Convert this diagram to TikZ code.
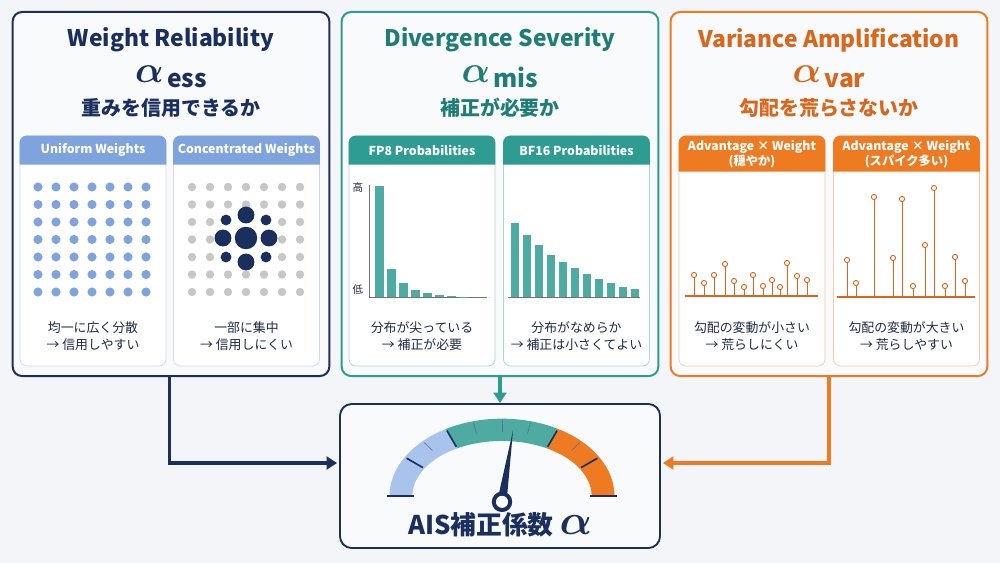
\documentclass[tikz,border=0pt]{standalone}
\usepackage{amsmath}
\usepackage{graphicx}
\usepackage{fontspec}
\setmainfont{Noto Sans CJK JP}
\usetikzlibrary{positioning,arrows.meta,calc}
\definecolor{navy}{HTML}{1B2F5E}
\definecolor{teal}{HTML}{2F9C92}
\definecolor{tealdk}{HTML}{1F7D75}
\definecolor{orng}{HTML}{EE7A22}
\definecolor{orngdk}{HTML}{D9661A}
\definecolor{bluehd}{HTML}{7FA3DC}
\definecolor{gblue}{HTML}{A9C4EC}
\definecolor{bg}{HTML}{F3F5F8}
\definecolor{pfill}{HTML}{F8FAFC}
\definecolor{txt}{HTML}{1E2A44}
\newcommand{\alphasym}[1]{\scalebox{3.2}{$\boldsymbol{\alpha}$}\hspace{3pt}\raisebox{-4pt}{\bfseries\fontsize{21}{21}\selectfont #1}}

\begin{document}
\begin{tikzpicture}[
  x=0.03cm, y=-0.03cm,
  panel/.style={draw=#1, line width=1.7pt, rounded corners=8pt, fill=pfill, minimum width=9.5cm, minimum height=10.92cm},
  sub/.style={draw=#1, line width=0.6pt, rounded corners=6pt, fill=white, minimum width=4.38cm, minimum height=6.9cm},
  ttl/.style={font=\bfseries\fontsize{19.5}{20}\selectfont, text=#1},
  jsub/.style={font=\bfseries\fontsize{17}{18}\selectfont, text=#1},
  hdr/.style={font=\bfseries\fontsize{10.5}{12}\selectfont, text=white, align=center},
  capt/.style={font=\fontsize{11}{15}\selectfont, text=txt, align=center},
  bar/.style={fill=teal!85},
  stem/.style={draw=orngdk, line width=0.8pt},
  arrow/.style={line width=2.6pt, -{Triangle[length=9pt,width=11pt]}}
]
\fill[bg] (0,0) rectangle (1000,563);

% outer panels
\node[panel=navy] (pl) at (171,194) {};
\node[panel=teal] (pm) at (500,194) {};
\node[panel=orng] (pr) at (829,194) {};

% titles
\node[ttl=navy] (tl) at (171,40) {Weight Reliability};
\node[ttl=tealdk] (tm) at (500,40) {Divergence Severity};
\node[ttl=orngdk] (tr) at (829,40) {Variance Amplification};
\node[text=navy] (al) at (171,77) {\alphasym{ess}};
\node[text=tealdk] (am) at (500,77) {\alphasym{mis}};
\node[text=orngdk] (ar) at (829,77) {\alphasym{var}};
\node[jsub=navy] (jl) at (171,108) {重みを信用できるか};
\node[jsub=tealdk] (jm) at (500,108) {補正が必要か};
\node[jsub=orngdk] (jr) at (829,108) {勾配を荒らさないか};

% sub panels with header bands
\foreach \n/\cx/\c/\h in {u/93/bluehd/29, c/246.5/bluehd/29, f/422/teal/29, b/576.5/teal/29, s/752/orng/36, k/906.5/orng/36}{
  \node[sub=\c!40] (\n) at (\cx,251) {};
  \fill[\c] ($(\n.north west)+(0,\h)$) [rounded corners=6pt] -- (\n.north west) -- (\n.north east) [sharp corners] -- ($(\n.north east)+(0,\h)$) -- cycle;
}
\node[hdr] (hu) at (93,150) {Uniform Weights};
\node[hdr] (hc) at (246.5,150) {Concentrated Weights};
\node[hdr] (hf) at (422,150) {FP8 Probabilities};
\node[hdr] (hb) at (576.5,150) {BF16 Probabilities};
\node[hdr, font=\bfseries\fontsize{10.5}{13}\selectfont] (hs) at (752,154) {Advantage × Weight\\(穏やか)};
\node[hdr, font=\bfseries\fontsize{10.5}{13}\selectfont] (hk) at (906.5,154) {Advantage × Weight\\(スパイク多い)};

% captions
\node[capt] (cu) at (93,336) {均一に広く分散\\→ 信用しやすい};
\node[capt] (cc) at (246.5,336) {一部に集中\\→ 信用しにくい};
\node[capt] (cf) at (422,336) {分布が尖っている\\→ 補正が必要};
\node[capt] (cb) at (576.5,336) {分布がなめらか\\→ 補正は小さくてよい};
\node[capt] (cs) at (752,336) {勾配の変動が小さい\\→ 荒らしにくい};
\node[capt] (ck) at (906.5,336) {勾配の変動が大きい\\→ 荒らしやすい};

% uniform dots
\foreach \i in {0,...,6}
  \foreach \j in {0,...,6}
    \fill[bluehd] (38+\i*18,187+\j*17.5) circle (3.9pt);

% concentrated dots
\foreach \i in {0,...,6}
  \foreach \j in {0,...,6}{
    \pgfmathtruncatemacro\inner{(\i>1)*(\i<5)*(\j>1)*(\j<5)}
    \ifnum\inner=0 \fill[black!22] (192+\i*18,187+\j*17.5) circle (3.6pt); \fi
  }
\fill[navy] (246,238) circle (9.6pt);
\foreach \p in {(246,215),(246,262),(223,238),(269,238)} \fill[navy] \p circle (7.2pt);
\foreach \p in {(226,220),(266,220),(226,257),(266,257)} \fill[navy] \p circle (4.6pt);

% FP8 bars
\draw[black!55, line width=0.6pt] (369,185) -- (369,297) -- (487,297);
\node[font=\fontsize{9}{9}\selectfont, text=txt] (hi) at (358,187) {高};
\node[font=\fontsize{9}{9}\selectfont, text=txt] (lo) at (358,290) {低};
\foreach \t [count=\k from 0] in {186,269,283,290,293,295,296,296.5,297,297}
  \fill[bar] (375+\k*12,297) rectangle ++(9,{\t-297});

% BF16 bars
\draw[black!55, line width=0.6pt] (508,297) -- (640,297);
\foreach \t [count=\k from 0] in {223,235,245,255,262,268,274,279,283,287,289}
  \fill[bar] (511+\k*12,297) rectangle ++(8,{\t-297});

% mild stems
\draw[stem, line width=1.1pt] (685,296) -- (818,296);
\foreach \x/\t in {694/275,704/283,714/275,725/264,734/281,744/287,753/275,763/286,772/280,780/287,787/263,797/276,807/280}{
  \draw[stem] (\x,296) -- (\x,\t);
  \draw[stem, fill=white] (\x,\t) circle (2.2pt);
}
% spiky stems
\draw[stem, line width=1.1pt] (837,297) -- (975,297);
\foreach \x/\t in {847/260,856/283,874/197,893/258,902/199,913/286,925/245,934/188,945/286,955/257,965/281}{
  \draw[stem] (\x,297) -- (\x,\t);
  \draw[stem, fill=white] (\x,\t) circle (2.2pt);
}

% result box and gauge
\node[draw=navy, line width=1.6pt, rounded corners=10pt, fill=pfill, minimum width=9.6cm, minimum height=4.32cm] (gbox) at (500,476) {};
\begin{scope}[shift={(502,496)}]
  \foreach \a/\b/\c in {180/120/gblue, 120/60/teal!85, 60/0/orng}
    \fill[\c] (\a:96pt and 66pt) arc[start angle=\a, end angle=\b, x radius=96pt, y radius=66pt]
      -- (\b:76.5pt and 47pt) arc[start angle=\b, end angle=\a, x radius=76.5pt, y radius=47pt] -- cycle;
  \foreach \a in {120,60,150,30}
    \draw[navy, line width=1.4pt] (\a:78pt and 48.5pt) -- (\a:94pt and 64.5pt);
  \foreach \a in {135,105,90,75,45}
    \draw[navy!70, line width=0.5pt] (\a:84pt and 55pt) -- (\a:94pt and 64.5pt);
  \draw[navy, line width=1.4pt] (-98pt,0) -- (-75pt,0) (75pt,0) -- (98pt,0);
  \fill[navy] (-4pt,-4pt) -- (9.4pt,56pt) -- (4pt,-4pt) -- cycle;
  \draw[navy, line width=3.4pt, fill=white] (0,-5pt) circle (7pt);
\end{scope}
\node[font=\bfseries\fontsize{22}{24}\selectfont, text=navy] (gt) at (500,525) {AIS補正係数 \scalebox{1.75}{$\boldsymbol{\alpha}$}};

% connectors
\coordinate (gl) at ($(gbox.west)+(-2,-13)$);
\coordinate (gr) at ($(gbox.east)+(2,-13)$);
\draw[arrow, draw=navy] ([xshift=-1]pl.south) |- (gl);
\draw[arrow, draw=teal] (pm.south) -- (gbox.north);
\draw[arrow, draw=orng] (pr.south) |- (gr);
\end{tikzpicture}
\end{document}
